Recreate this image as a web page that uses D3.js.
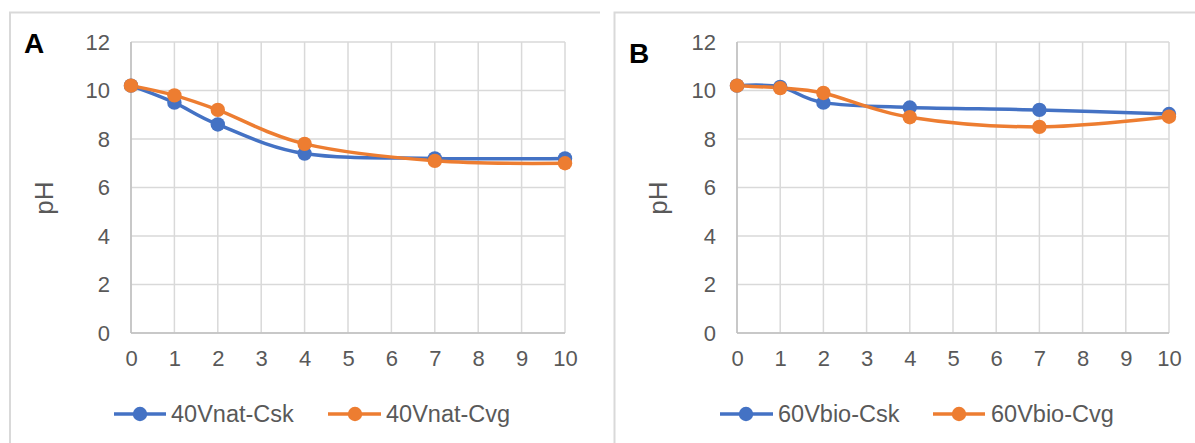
<!DOCTYPE html>
<html>
<head>
<meta charset="utf-8">
<script src="https://cdn.jsdelivr.net/npm/d3@7"></script>
<style>
  html, body { margin: 0; padding: 0; background: #fff; }
  svg { display: block; }
  text { font-family: "Liberation Sans", Arial, sans-serif; }
</style>
</head>
<body>
<svg id="chart" width="1195" height="443"></svg>
<script>
// ---- data ----
const days = [0, 1, 2, 4, 7, 10];
const xTicks = [0, 1, 2, 3, 4, 5, 6, 7, 8, 9, 10];
const yTicks = [0, 2, 4, 6, 8, 10, 12];
const panelLabels = ["A", "B"];
const seriesNamesA = ["40Vnat-Csk", "40Vnat-Cvg"];
const seriesNamesB = ["60Vbio-Csk", "60Vbio-Cvg"];
const a_Csk = [10.2, 9.5, 8.6, 7.4, 7.2, 7.2];
const a_Cvg = [10.2, 9.8, 9.2, 7.8, 7.1, 7.0];
const b_Csk = [10.2, 10.15, 9.5, 9.3, 9.2, 9.03];
const b_Cvg = [10.2, 10.1, 9.9, 8.9, 8.5, 8.92];
const colors = ["#4472C4", "#ED7D31"];

const svg = d3.select("#chart");

const panels = [
  { label: panelLabels[0], names: seriesNamesA, series: [a_Csk, a_Cvg],
    frame: [10, 12.5, 600, 460], plot: [131, 565, 42, 333],
    labelPos: [24, 53], yTitle: [44, 198],
    legend: [[114, 166, 140, 171], [328, 381, 355, 386]], legendY: 414 },
  { label: panelLabels[1], names: seriesNamesB, series: [b_Csk, b_Cvg],
    frame: [614.5, 12.5, 1210, 460], plot: [737, 1169, 42, 333],
    labelPos: [629, 63], yTitle: [658, 198],
    legend: [[720, 773, 746, 778], [933, 985, 959, 991]], legendY: 414 }
];

panels.forEach(p => {
  const g = svg.append("g");
  // frame
  g.append("path")
    .attr("d", `M${p.frame[0]},${p.frame[3]} V${p.frame[1]} H${p.frame[2]}`)
    .attr("fill", "none").attr("stroke", "#d9d9d9").attr("stroke-width", 2);

  const x = d3.scaleLinear().domain([0, 10]).range([p.plot[0], p.plot[1]]);
  const y = d3.scaleLinear().domain([0, 12]).range([p.plot[3], p.plot[2]]);

  // gridlines
  g.append("g").selectAll("line.v").data(xTicks).join("line")
    .attr("x1", d => x(d)).attr("x2", d => x(d))
    .attr("y1", y(0)).attr("y2", y(12))
    .attr("stroke", "#d9d9d9").attr("stroke-width", 1.5);
  g.append("g").selectAll("line.h").data(yTicks).join("line")
    .attr("x1", x(0)).attr("x2", x(10))
    .attr("y1", d => y(d)).attr("y2", d => y(d))
    .attr("stroke", "#d9d9d9").attr("stroke-width", 1.5);
  // axis lines
  g.append("line").attr("x1", x(0)).attr("x2", x(10)).attr("y1", y(0)).attr("y2", y(0))
    .attr("stroke", "#bfbfbf").attr("stroke-width", 1.5);
  g.append("line").attr("x1", x(0)).attr("x2", x(0)).attr("y1", y(0)).attr("y2", y(12))
    .attr("stroke", "#bfbfbf").attr("stroke-width", 1.5);

  // tick labels via d3 axes
  const xAxis = d3.axisBottom(x).tickValues(xTicks).tickSize(0).tickPadding(17).tickFormat(d3.format("d"));
  const yAxis = d3.axisLeft(y).tickValues(yTicks).tickSize(0).tickPadding(21).tickFormat(d3.format("d"));
  const gx = g.append("g").attr("transform", `translate(0,${y(0)})`).call(xAxis);
  const gy = g.append("g").attr("transform", `translate(${x(0)},0)`).call(yAxis);
  [gx, gy].forEach(ax => {
    ax.select(".domain").remove();
    ax.selectAll("text").attr("fill", "#595959").attr("font-size", 22)
      .attr("font-family", '"Liberation Sans", Arial, sans-serif');
  });

  // y title
  g.append("text").attr("transform", `translate(${p.yTitle[0]},${p.yTitle[1]}) rotate(-90)`)
    .attr("text-anchor", "middle").attr("dy", "0.35em")
    .attr("fill", "#595959").attr("font-size", 26).text("pH");

  // panel label
  g.append("text").attr("x", p.labelPos[0]).attr("y", p.labelPos[1])
    .attr("font-size", 28).attr("font-weight", "bold").attr("fill", "#000").text(p.label);

  // series
  const line = d3.line().x((d, i) => x(days[i])).y(d => y(d)).curve(d3.curveCardinal.tension(0));
  p.series.forEach((s, si) => {
    g.append("path").attr("d", line(s)).attr("fill", "none")
      .attr("stroke", colors[si]).attr("stroke-width", 3.5).attr("stroke-linejoin", "round");
  });
  p.series.forEach((s, si) => {
    g.append("g").selectAll("circle").data(s).join("circle")
      .attr("cx", (d, i) => x(days[i])).attr("cy", d => y(d)).attr("r", 7.2)
      .attr("fill", colors[si]);
  });

  // legend
  p.legend.forEach((l, li) => {
    g.append("line").attr("x1", l[0]).attr("x2", l[1]).attr("y1", p.legendY).attr("y2", p.legendY)
      .attr("stroke", colors[li]).attr("stroke-width", 3.5);
    g.append("circle").attr("cx", l[2]).attr("cy", p.legendY).attr("r", 7.2).attr("fill", colors[li]);
    g.append("text").attr("x", l[3]).attr("y", p.legendY).attr("dy", "0.35em")
      .attr("fill", "#595959").attr("font-size", 23.5).text(p.names[li]);
  });
});
</script>
</body>
</html>
